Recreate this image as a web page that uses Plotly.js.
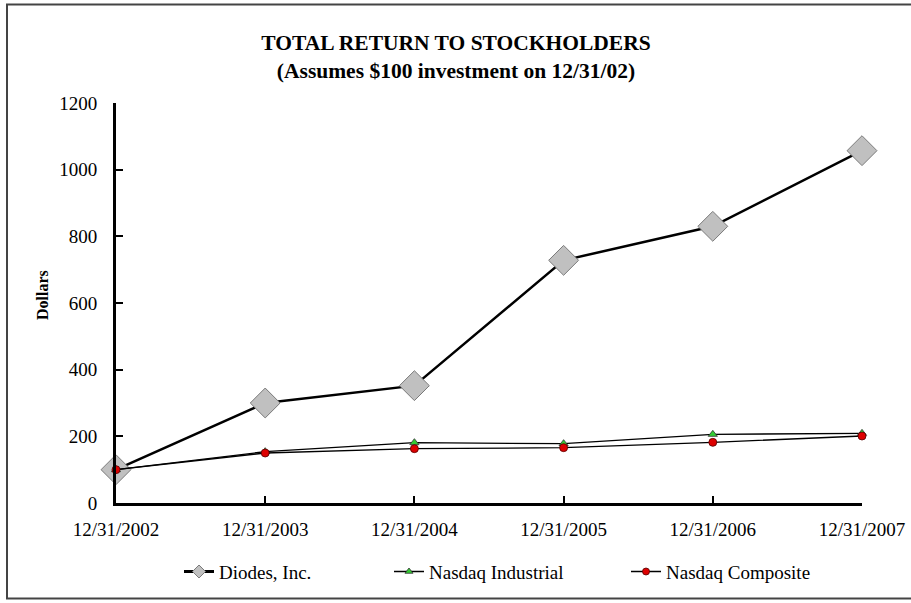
<!DOCTYPE html>
<html>
<head>
<meta charset="utf-8">
<script src="https://cdn.plot.ly/plotly-3.0.1.min.js"></script>
<style>html,body{margin:0;padding:0;background:#fff;}#chart{width:911px;height:603px;}</style>
</head>
<body>
<div id="chart"></div>
<script>
const categories = ["12/31/2002","12/31/2003","12/31/2004","12/31/2005","12/31/2006","12/31/2007"];
const diodes = [100, 300, 352, 728, 830, 1057];
const nasdaqIndustrial = [100, 154, 181, 178, 206, 209];
const nasdaqComposite = [100, 150, 163, 166, 182, 201];
const seriesNames = ["Diodes, Inc.", "Nasdaq Industrial", "Nasdaq Composite"];
const yTicks = [0, 200, 400, 600, 800, 1000, 1200];
const idx = categories.map((c, i) => i);

const serif = "Liberation Serif, Times New Roman, serif";

const diodesLine = {color: "#000", width: 2.5};
const idxLine = {color: "#000", width: 1.3};
const diodesMarker = {symbol: "diamond", color: "#c0c0c0", line: {color: "#7a7a7a", width: 1}};
const indMarker = {symbol: "triangle-up", color: "#33cc33", line: {color: "#333", width: 0.8}};
const compMarker = {symbol: "circle", color: "#dd0000", line: {color: "#550000", width: 0.8}};

const traces = [
  {x: idx, y: diodes, name: seriesNames[0], type: "scatter", mode: "lines+markers",
   line: diodesLine, marker: Object.assign({size: 23}, diodesMarker), cliponaxis: false, showlegend: false},
  {x: idx, y: nasdaqIndustrial, name: seriesNames[1], type: "scatter", mode: "lines+markers",
   line: idxLine, marker: Object.assign({size: 8}, indMarker), cliponaxis: false, showlegend: false},
  {x: idx, y: nasdaqComposite, name: seriesNames[2], type: "scatter", mode: "lines+markers",
   line: idxLine, marker: Object.assign({size: 8}, compMarker), cliponaxis: false, showlegend: false},
  {x: [null], y: [null], name: seriesNames[0], type: "scatter", mode: "lines+markers",
   line: {color: "#000", width: 3}, marker: Object.assign({size: 10}, diodesMarker), legend: "legend"},
  {x: [null], y: [null], name: seriesNames[1], type: "scatter", mode: "lines+markers",
   line: {color: "#000", width: 1.5}, marker: Object.assign({size: 7}, indMarker), legend: "legend2"},
  {x: [null], y: [null], name: seriesNames[2], type: "scatter", mode: "lines+markers",
   line: {color: "#000", width: 1.5}, marker: Object.assign({size: 7}, compMarker), legend: "legend3"}
];

const px = v => (v - 116) / 746;
const py = v => (505 - v) / 402;
const legFont = {family: serif, size: 19, color: "#000"};
const legBase = {y: py(574), yanchor: "middle", xanchor: "left", font: legFont, bgcolor: "rgba(0,0,0,0)", itemwidth: 30};

const layout = {
  width: 911, height: 603,
  paper_bgcolor: "#fff", plot_bgcolor: "#fff",
  margin: {l: 116, r: 49, t: 103, b: 98},
  font: {family: serif, color: "#000", size: 19},
  title: {
    text: "<b>TOTAL RETURN TO STOCKHOLDERS</b><br><b>(Assumes $100 investment on 12/31/02)</b>",
    x: 456 / 911, xref: "container", xanchor: "center",
    y: 1 - 50 / 603, yref: "container", yanchor: "middle",
    font: {family: serif, size: 21.5, color: "#000"}
  },
  xaxis: {
    range: [0, 5], tickvals: idx, ticktext: categories,
    showgrid: false, zeroline: false, showline: true, linewidth: 3, linecolor: "#000",
    ticks: "inside", ticklen: 7, tickwidth: 2, tickcolor: "#000",
    tickfont: {family: serif, size: 19, color: "#000"},
    ticklabelstandoff: 7
  },
  yaxis: {
    range: [0, 1200], tickvals: yTicks,
    showgrid: false, zeroline: false, showline: true, linewidth: 3, linecolor: "#000",
    ticks: "inside", ticklen: 7, tickwidth: 2, tickcolor: "#000",
    tickfont: {family: serif, size: 19, color: "#000"},
    ticklabelstandoff: 12
  },
  annotations: [
    {text: "<b>Dollars</b>", xref: "paper", yref: "paper", x: px(42), y: py(296),
     xanchor: "center", yanchor: "middle", textangle: -90, showarrow: false,
     font: {family: serif, size: 16, color: "#000"}}
  ],
  showlegend: true,
  legend: Object.assign({x: px(179)}, legBase),
  legend2: Object.assign({x: px(389)}, legBase),
  legend3: Object.assign({x: px(626)}, legBase),
  shapes: [
    {type: "rect", xref: "paper", yref: "paper", x0: px(7), x1: px(935), y0: py(601), y1: py(4),
     line: {color: "#444", width: 2}, fillcolor: "rgba(0,0,0,0)", layer: "below"}
  ]
};

Plotly.newPlot("chart", traces, layout, {displayModeBar: false, staticPlot: true});
</script>
</body>
</html>
